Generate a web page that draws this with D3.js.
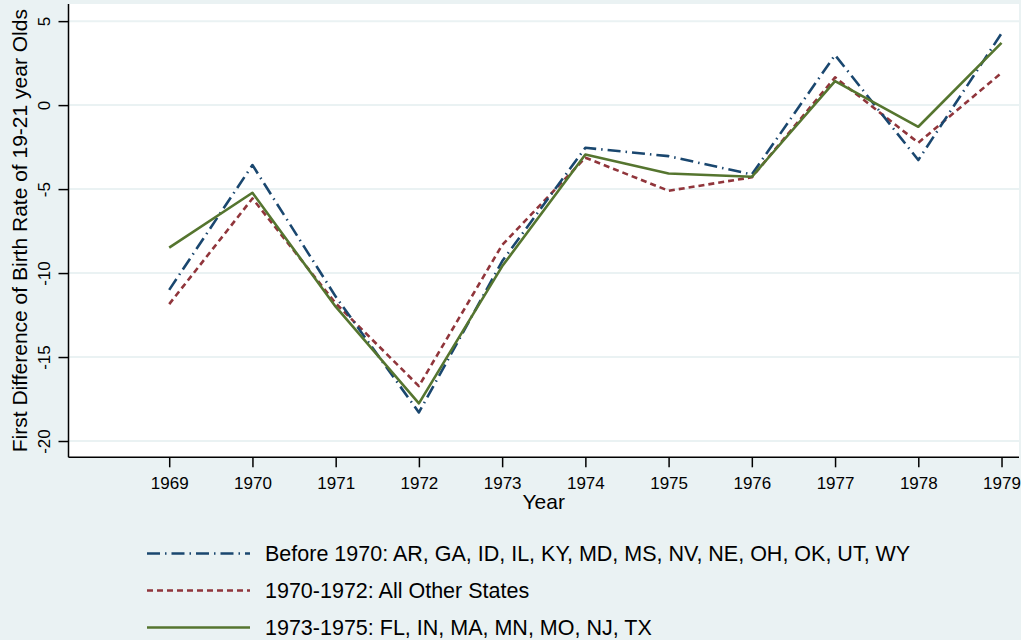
<!DOCTYPE html>
<html>
<head>
  <meta charset="utf-8">
  <title>First difference of birth rate</title>
  <script type="text/javascript" src="https://d3js.org/d3.v7.min.js"></script>
  <style>
    body { margin: 0; background: #eaf2f3; }
    text { font-family: Arial, "Liberation Sans", sans-serif; fill: #000; }
  </style>
</head>
<body>
  <div id="container"></div>
  <script type="text/javascript">
    var years = [1969, 1970, 1971, 1972, 1973, 1974, 1975, 1976, 1977, 1978, 1979];
    var yTicks = [5, 0, -5, -10, -15, -20];
    var before1970 = [-11.0, -3.57, -11.4, -18.3, -9.3, -2.54, -3.04, -4.13, 2.98, -3.27, 4.27];
    var from1970to1972 = [-11.85, -5.56, -11.8, -16.73, -8.33, -3.13, -5.10, -4.3, 1.65, -2.24, 1.92];
    var from1973to1975 = [-8.49, -5.22, -12.0, -17.76, -9.6, -2.94, -4.07, -4.27, 1.43, -1.29, 3.71];
    var seriesNames = [
      'Before 1970: AR, GA, ID, IL, KY, MD, MS, NV, NE, OH, OK, UT, WY',
      '1970-1972: All Other States',
      '1973-1975: FL, IN, MA, MN, MO, NJ, TX'
    ];
    var seriesColours = ['#1a476f', '#90353b', '#55752f'];
    var seriesDashes = ['13,5,1.5,5', '6,4', null];

    var width = 1021, height = 640;
    var plot = {left: 68.5, right: 1019, top: 4, bottom: 457.3};
    var tickFont = '17px', titleFont = '21px', legendFont = '21.5px';

    var svg = d3.select('#container').append('svg')
      .attr('width', width)
      .attr('height', height)
      .style('display', 'block');

    svg.append('rect')
      .attr('width', width)
      .attr('height', height)
      .attr('fill', '#eaf2f3');

    var x = d3.scaleLinear()
      .domain([1967.79, 1979.21])
      .range([plot.left, plot.right]);
    var y = d3.scaleLinear()
      .domain([-20.97, 6.02])
      .range([plot.bottom, plot.top]);

    svg.append('rect')
      .attr('x', plot.left)
      .attr('y', plot.top)
      .attr('width', plot.right - plot.left)
      .attr('height', plot.bottom - plot.top)
      .attr('fill', '#fff');

    // gridlines
    svg.append('g').selectAll('line')
      .data(yTicks)
      .enter()
      .append('line')
        .attr('x1', plot.left)
        .attr('x2', plot.right)
        .attr('y1', d => y(d))
        .attr('y2', d => y(d))
        .attr('stroke', '#eaf2f3')
        .attr('stroke-width', 2);

    // y axis
    var yAxis = svg.append('g')
      .attr('transform', `translate(${plot.left},0)`)
      .call(d3.axisLeft(y).tickValues(yTicks).tickSize(10).tickSizeOuter(0).tickFormat(d => String(d)));
    yAxis.select('.domain')
      .attr('d', `M0,${plot.top}V${plot.bottom}`)
      .attr('stroke-width', 1.5);
    yAxis.selectAll('.tick line').attr('stroke-width', 1.5);
    yAxis.selectAll('.tick text')
      .attr('x', null).attr('dy', null)
      .attr('transform', 'translate(-19,0) rotate(-90)')
      .attr('text-anchor', 'middle')
      .style('font-size', tickFont)
      .style('font-family', 'Arial, "Liberation Sans", sans-serif');

    // x axis
    var xAxis = svg.append('g')
      .attr('transform', `translate(0,${plot.bottom})`)
      .call(d3.axisBottom(x).tickValues(years).tickSize(10).tickSizeOuter(0).tickFormat(d => String(d)));
    xAxis.select('.domain')
      .attr('d', `M${plot.left},0H${plot.right}`)
      .attr('stroke-width', 1.5);
    xAxis.selectAll('.tick line').attr('stroke-width', 1.5);
    xAxis.selectAll('.tick text')
      .attr('y', 31.5).attr('dy', null)
      .style('font-size', tickFont)
      .style('font-family', 'Arial, "Liberation Sans", sans-serif');

    svg.append('text')
      .attr('x', (plot.left + plot.right) / 2)
      .attr('y', 508.5)
      .attr('text-anchor', 'middle')
      .style('font-size', titleFont)
      .text('Year');

    svg.append('text')
      .attr('transform', `translate(26.5,${(plot.top + plot.bottom) / 2}) rotate(-90)`)
      .attr('text-anchor', 'middle')
      .style('font-size', titleFont)
      .text('First Difference of Birth Rate of 19-21 year Olds');

    // series
    var series = [before1970, from1970to1972, from1973to1975].map((vals, i) => ({
      name: seriesNames[i],
      colour: seriesColours[i],
      dash: seriesDashes[i],
      values: vals.map((v, j) => ({year: years[j], value: v}))
    }));

    var line = d3.line()
      .x(d => x(d.year))
      .y(d => y(d.value));

    var drawOrder = [1, 0, 2];
    svg.append('g').selectAll('path')
      .data(drawOrder.map(i => series[i]))
      .enter()
      .append('path')
        .attr('d', d => line(d.values))
        .attr('fill', 'none')
        .attr('stroke', d => d.colour)
        .attr('stroke-width', 2.6)
        .attr('stroke-dasharray', d => d.dash)
        .attr('stroke-linejoin', 'round');

    // legend
    var legend = svg.append('g').selectAll('g')
      .data(series)
      .enter()
      .append('g')
        .attr('transform', (d, i) => `translate(0,${553.5 + i * 37})`);
    legend.append('line')
      .attr('x1', 147)
      .attr('x2', 250)
      .attr('stroke', d => d.colour)
      .attr('stroke-width', 2.6)
      .attr('stroke-dasharray', d => d.dash);
    legend.append('text')
      .attr('x', 265)
      .attr('y', 7.5)
      .style('font-size', legendFont)
      .text(d => d.name);
  </script>
</body>
</html>
